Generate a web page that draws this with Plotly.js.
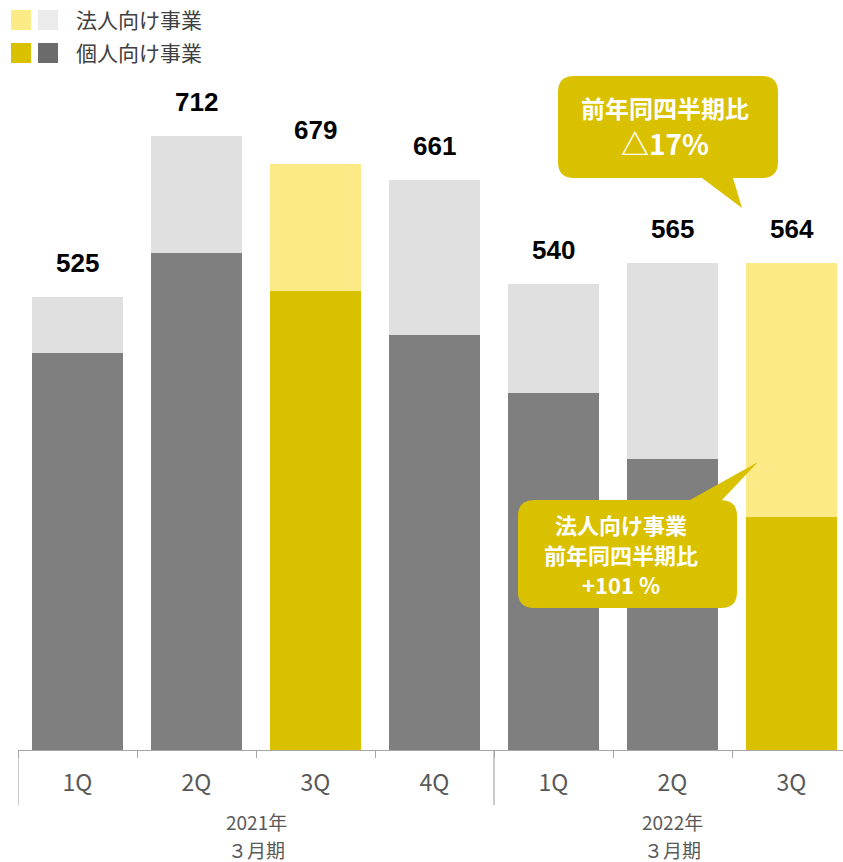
<!DOCTYPE html>
<html>
<head>
<meta charset="utf-8">
<script src="https://cdn.plot.ly/plotly-3.0.1.min.js"></script>
<style>html,body{margin:0;padding:0;background:#fff;overflow:hidden}</style>
</head>
<body>
<div id="chart" style="width:843px;height:862px"></div>
<script>
// ---- data ----
const quarters = ['1Q','2Q','3Q','4Q','1Q','2Q','3Q'];
const personal = [460, 576, 532, 481, 414, 337, 270];
const corporate = [65, 136, 147, 180, 126, 228, 294];
const totals = [525, 712, 679, 661, 540, 565, 564];
const fiscalYears = ['2021年', '2022年'];
const fiscalPeriod = '３月期';
const fiscalYearQuarterCounts = [4, 3];
const legendLabels = ['法人向け事業', '個人向け事業'];
const bubbleTop = ['前年同四半期比', '△17%'];
const bubbleBottom = ['法人向け事業', '前年同四半期比', '+101 %'];

// ---- styling ----
const FONT = '"Noto Sans CJK JP", "Noto Sans", sans-serif';
const NUMFONT = '"Liberation Sans", Arial, sans-serif';
const C_DARK_GRAY = '#7f7f7f', C_LIGHT_GRAY = '#e0e0e0';
const C_YELLOW = '#d9c100', C_LIGHT_YELLOW = '#fbea85';
const AX = '#a6a6a6';
const TXT = '#595959';

const W = 843, H = 862, ML = 18, MB = 112;
const PW = W - ML, PH = H - MB;
const px2x = p => (p - ML) / PW;
const py2y = p => (PH - p) / PH;

const xs = quarters.map((_, i) => i);
const hl = quarters.map(q => q === '3Q');

const traces = [
  {type: 'bar', x: xs, y: personal, name: legendLabels[1],
   marker: {color: hl.map(h => h ? C_YELLOW : C_DARK_GRAY)}, hoverinfo: 'skip'},
  {type: 'bar', x: xs, y: corporate, name: legendLabels[0],
   marker: {color: hl.map(h => h ? C_LIGHT_YELLOW : C_LIGHT_GRAY)}, hoverinfo: 'skip'}
];

const annotations = [];
const shapes = [];

// value labels
totals.forEach((t, i) => annotations.push({
  x: i, y: t, xref: 'x', yref: 'y', text: String(t), showarrow: false,
  xanchor: 'center', yanchor: 'middle', yshift: 34,
  font: {family: NUMFONT, size: 26, color: '#000', weight: 'bold'}
}));

// fiscal year group labels and dividers
let start = 0;
fiscalYears.forEach((fy, g) => {
  const n = fiscalYearQuarterCounts[g];
  const center = start + (n - 1) / 2;
  [[fy, 821], [fiscalPeriod, 849]].forEach(([t, py]) => annotations.push({
    x: center, xref: 'x', y: py2y(py), yref: 'paper', text: t, showarrow: false,
    xanchor: 'center', yanchor: 'middle', font: {family: FONT, size: 19, color: TXT}
  }));
  shapes.push({type: 'line', xref: 'x', yref: 'paper', x0: start - 0.5, x1: start - 0.5,
    y0: 0, y1: py2y(805), line: {color: AX, width: 1.2}});
  start += n;
});

// legend
const sw = [[C_LIGHT_YELLOW, '#ebebeb'], [C_YELLOW, '#6b6b6b']];
legendLabels.forEach((lab, r) => {
  const top = 10 + r * 33;
  [11, 38].forEach((lx, k) => shapes.push({
    type: 'rect', xref: 'paper', yref: 'paper',
    x0: px2x(lx), x1: px2x(lx + 20), y0: py2y(top), y1: py2y(top + 20),
    fillcolor: sw[r][k], line: {width: 0}
  }));
  annotations.push({
    xref: 'paper', yref: 'paper', x: px2x(74), y: py2y(top + 9), xanchor: 'left', yanchor: 'middle',
    text: lab, showarrow: false, font: {family: FONT, size: 21, color: '#404040'}
  });
});

// speech bubbles
function bubblePath(x0, y0, x1, y1, r, tail) {
  const P = (x, y) => px2x(x).toFixed(5) + ',' + py2y(y).toFixed(5);
  let d = 'M' + P(x0 + r, y0);
  if (tail.side === 'top') d += ' L' + P(tail.a, y0) + ' L' + P(tail.tx, tail.ty) + ' L' + P(tail.b, y0);
  d += ' L' + P(x1 - r, y0) + ' Q' + P(x1, y0) + ' ' + P(x1, y0 + r);
  d += ' L' + P(x1, y1 - r) + ' Q' + P(x1, y1) + ' ' + P(x1 - r, y1);
  if (tail.side === 'bottom') d += ' L' + P(tail.b, y1) + ' L' + P(tail.tx, tail.ty) + ' L' + P(tail.a, y1);
  d += ' L' + P(x0 + r, y1) + ' Q' + P(x0, y1) + ' ' + P(x0, y1 - r);
  d += ' L' + P(x0, y0 + r) + ' Q' + P(x0, y0) + ' ' + P(x0 + r, y0) + ' Z';
  return d;
}
shapes.push({type: 'path', xref: 'paper', yref: 'paper', fillcolor: C_YELLOW, line: {width: 0},
  path: bubblePath(558, 76, 778, 178, 16, {side: 'bottom', a: 702, b: 733, tx: 742, ty: 208})});
shapes.push({type: 'path', xref: 'paper', yref: 'paper', fillcolor: C_YELLOW, line: {width: 0},
  path: bubblePath(518, 500, 737, 608, 16, {side: 'top', a: 690, b: 722, tx: 758, ty: 462})});

[[bubbleTop[0], 107, 24], [bubbleTop[1], 143, 28]].forEach(([t, y, s]) => annotations.push({
  xref: 'paper', yref: 'paper', x: px2x(665), y: py2y(y), text: t, showarrow: false,
  xanchor: 'center', yanchor: 'middle', font: {family: FONT, size: s, color: '#fff', weight: 'bold'}
}));
bubbleBottom.forEach((t, i) => annotations.push({
  xref: 'paper', yref: 'paper', x: px2x(621), y: py2y(524 + i * 30), text: t, showarrow: false,
  xanchor: 'center', yanchor: 'middle', font: {family: FONT, size: 22, color: '#fff', weight: 'bold'}
}));

const layout = {
  width: W, height: H,
  margin: {l: ML, r: 0, t: 0, b: MB, pad: 0},
  paper_bgcolor: '#fff', plot_bgcolor: '#fff',
  barmode: 'stack', bargap: 0.227,
  showlegend: false,
  font: {family: FONT},
  xaxis: {
    range: [-0.5, -0.5 + PW / 119], fixedrange: true,
    tickmode: 'array', tickvals: xs, ticktext: quarters,
    ticks: '', showgrid: false, zeroline: false,
    showline: true, linecolor: AX, linewidth: 1.2,
    tickfont: {family: FONT, size: 23, color: TXT},
    ticklabelstandoff: 12,
    minor: {tickmode: 'linear', tick0: 0.5, dtick: 1, ticks: 'outside', ticklen: 7,
            tickcolor: AX, tickwidth: 1, showgrid: false}
  },
  yaxis: {range: [0, PH / 0.8626], visible: false, fixedrange: true},
  annotations, shapes
};

Plotly.newPlot('chart', traces, layout, {staticPlot: true, displayModeBar: false});
</script>
</body>
</html>
